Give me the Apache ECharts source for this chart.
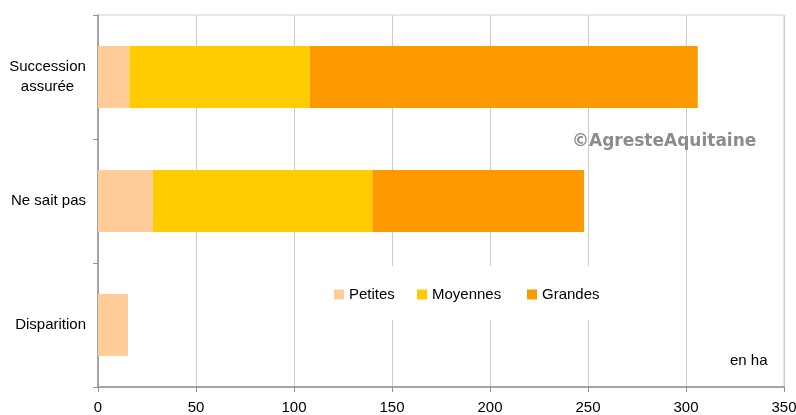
<!DOCTYPE html>
<html><head><meta charset="utf-8">
<script src="https://cdn.jsdelivr.net/npm/echarts@6/dist/echarts.min.js"></script>
<style>html,body{margin:0;padding:0;background:#fff}#c{width:796px;height:415px}</style>
</head><body><div id="c"></div>
<script>
const categories = ['Succession assurée', 'Ne sait pas', 'Disparition'];
const seriesNames = ['Petites', 'Moyennes', 'Grandes'];
const petites = [16, 28, 15.3];
const moyennes = [92, 112, 0];
const grandes = [198, 108, 0];
const xTicks = [0, 50, 100, 150, 200, 250, 300, 350];
const colors = ['#FFCC99', '#FFCC00', '#FF9900'];
const values = [petites, moyennes, grandes];

const chart = echarts.init(document.getElementById('c'));
const font = 'Liberation Sans, Arial, sans-serif';
const legendLefts = [334, 417, 527];
chart.setOption({
  animation: false,
  grid: { left: 98, right: 12, top: 15, bottom: 28, show: true, borderColor: '#cfcfcf', borderWidth: 1, outerBoundsMode: 'none', containLabel: false },
  xAxis: {
    type: 'value', min: xTicks[0], max: xTicks[xTicks.length - 1], interval: 50,
    axisLine: { show: true, lineStyle: { color: '#909090', width: 1.5 } },
    axisTick: { show: true, length: 5, lineStyle: { color: '#909090' } },
    axisLabel: { color: '#000', fontFamily: font, fontSize: 15, margin: 13 },
    splitLine: { show: true, lineStyle: { color: '#cccccc', width: 1 } }
  },
  yAxis: {
    type: 'category', data: categories, inverse: true,
    axisLine: { show: true, lineStyle: { color: '#909090', width: 1.5 } },
    axisTick: { show: true, length: 5, alignWithLabel: false, lineStyle: { color: '#909090' } },
    axisLabel: {
      color: '#000', fontFamily: font, fontSize: 15, margin: 12, lineHeight: 20,
      formatter: v => v === 'Succession assurée' ? '{c|Succession}\n{c|assurée}' : v,
      rich: { c: { width: 77, align: 'center', fontFamily: font, fontSize: 15, color: '#000', lineHeight: 20 } }
    },
    splitLine: { show: false }
  },
  legend: seriesNames.map((n, i) => ({
    data: [n], left: legendLefts[i], top: 287, itemWidth: 10, itemHeight: 10, itemGap: 4,
    icon: 'rect', padding: 0,
    textStyle: { color: '#000', fontFamily: font, fontSize: 15 }
  })),
  graphic: [
    { type: 'rect', z: 1, shape: { x: 325, y: 266, width: 285, height: 54 }, style: { fill: '#fff' } },
    { type: 'text', z: 10, left: 572, top: 133, style: { text: '©AgresteAquitaine', fill: '#8c8c8c', font: 'bold 17px "DejaVu Sans", Verdana, sans-serif' } },
    { type: 'text', z: 10, left: 730, top: 353, style: { text: 'en ha', fill: '#000', font: '15px "Liberation Sans", Arial, sans-serif' } }
  ],
  series: seriesNames.map((n, i) => ({
    name: n, type: 'bar', stack: 'total', barWidth: '50%', z: 2,
    itemStyle: { color: colors[i] },
    data: values[i]
  }))
});
</script>
</body></html>
